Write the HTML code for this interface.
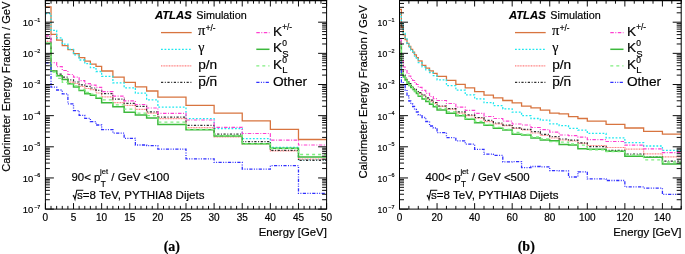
<!DOCTYPE html>
<html><head><meta charset="utf-8"><style>html,body{margin:0;padding:0;background:#fff;}svg{display:block;filter:blur(0.25px);} text{stroke:#000;stroke-width:0.18px;}</style></head>
<body><svg width="685" height="254" viewBox="0 0 685 254">
<rect width="685" height="254" fill="#fff"/>
<svg x="0" y="0" width="685" height="254"><clipPath id="c0"><rect x="45.4" y="0" width="281.20000000000005" height="209.1"/></clipPath><g clip-path="url(#c0)">
<path d="M45.40,6.80 L51.02,6.80 L51.02,34.30 L56.65,34.30 L56.65,40.20 L62.27,40.20 L62.27,45.60 L67.90,45.60 L67.90,49.70 L73.52,49.70 L73.52,53.60 L79.14,53.60 L79.14,57.70 L84.77,57.70 L84.77,61.20 L90.39,61.20 L90.39,64.10 L96.02,64.10 L96.02,66.30 L101.64,66.30 L101.64,71.00 L112.89,71.00 L112.89,77.20 L124.14,77.20 L124.14,82.40 L135.38,82.40 L135.38,86.90 L146.63,86.90 L146.63,91.00 L157.88,91.00 L157.88,97.20 L186.00,97.20 L186.00,105.40 L214.12,105.40 L214.12,113.20 L242.24,113.20 L242.24,120.90 L270.36,120.90 L270.36,129.30 L298.48,129.30 L298.48,139.50 L326.60,139.50" stroke="#d8743f" stroke-width="1.3" fill="none"/>
<path d="M45.40,13.60 L51.02,13.60 L51.02,30.40 L56.65,30.40 L56.65,37.80 L62.27,37.80 L62.27,44.20 L67.90,44.20 L67.90,49.30 L73.52,49.30 L73.52,54.80 L79.14,54.80 L79.14,60.00 L84.77,60.00 L84.77,63.70 L90.39,63.70 L90.39,67.60 L96.02,67.60 L96.02,71.50 L101.64,71.50 L101.64,76.40 L112.89,76.40 L112.89,82.80 L124.14,82.80 L124.14,87.80 L135.38,87.80 L135.38,93.20 L146.63,93.20 L146.63,99.90 L157.88,99.90 L157.88,107.20 L186.00,107.20 L186.00,118.60 L214.12,118.60 L214.12,128.50 L242.24,128.50 L242.24,138.60 L270.36,138.60 L270.36,147.40 L298.48,147.40 L298.48,159.70 L326.60,159.70" stroke="#1ee8f0" stroke-width="1.3" fill="none" stroke-dasharray="1.8 1.7"/>
<path d="M45.40,41.40 L51.02,41.40 L51.02,70.70 L56.65,70.70 L56.65,75.40 L62.27,75.40 L62.27,79.30 L67.90,79.30 L67.90,82.20 L73.52,82.20 L73.52,83.50 L79.14,83.50 L79.14,86.50 L84.77,86.50 L84.77,88.50 L90.39,88.50 L90.39,89.70 L96.02,89.70 L96.02,93.00 L101.64,93.00 L101.64,96.80 L112.89,96.80 L112.89,102.70 L124.14,102.70 L124.14,105.30 L135.38,105.30 L135.38,109.40 L146.63,109.40 L146.63,113.10 L157.88,113.10 L157.88,118.70 L186.00,118.70 L186.00,127.70 L214.12,127.70 L214.12,136.90 L242.24,136.90 L242.24,143.80 L270.36,143.80 L270.36,150.90 L298.48,150.90 L298.48,159.20 L326.60,159.20" stroke="#ff8080" stroke-width="1.2" fill="none" stroke-dasharray="1 0.6"/>
<path d="M45.40,37.00 L51.02,37.00 L51.02,71.10 L56.65,71.10 L56.65,74.10 L62.27,74.10 L62.27,77.20 L67.90,77.20 L67.90,79.90 L73.52,79.90 L73.52,82.00 L79.14,82.00 L79.14,84.80 L84.77,84.80 L84.77,86.40 L90.39,86.40 L90.39,88.00 L96.02,88.00 L96.02,90.30 L101.64,90.30 L101.64,93.60 L112.89,93.60 L112.89,99.20 L124.14,99.20 L124.14,103.30 L135.38,103.30 L135.38,106.40 L146.63,106.40 L146.63,111.80 L157.88,111.80 L157.88,117.10 L186.00,117.10 L186.00,125.30 L214.12,125.30 L214.12,134.10 L242.24,134.10 L242.24,141.70 L270.36,141.70 L270.36,150.30 L298.48,150.30 L298.48,160.40 L326.60,160.40" stroke="#303030" stroke-width="1.2" fill="none" stroke-dasharray="2.2 1.6 1 1.6"/>
<path d="M45.40,35.90 L51.02,35.90 L51.02,62.60 L56.65,62.60 L56.65,66.70 L62.27,66.70 L62.27,70.50 L67.90,70.50 L67.90,74.50 L73.52,74.50 L73.52,77.10 L79.14,77.10 L79.14,80.70 L84.77,80.70 L84.77,83.60 L90.39,83.60 L90.39,85.10 L96.02,85.10 L96.02,87.40 L101.64,87.40 L101.64,91.60 L112.89,91.60 L112.89,96.20 L124.14,96.20 L124.14,100.90 L135.38,100.90 L135.38,104.50 L146.63,104.50 L146.63,108.00 L157.88,108.00 L157.88,113.30 L186.00,113.30 L186.00,120.00 L214.12,120.00 L214.12,127.30 L242.24,127.30 L242.24,133.50 L270.36,133.50 L270.36,140.20 L298.48,140.20 L298.48,145.00 L326.60,145.00" stroke="#ff40d0" stroke-width="1.2" fill="none" stroke-dasharray="3.5 1.5 1 1.5"/>
<path d="M45.40,43.20 L51.02,43.20 L51.02,71.00 L56.65,71.00 L56.65,75.80 L62.27,75.80 L62.27,79.60 L67.90,79.60 L67.90,83.80 L73.52,83.80 L73.52,86.90 L79.14,86.90 L79.14,90.50 L84.77,90.50 L84.77,93.70 L90.39,93.70 L90.39,95.20 L96.02,95.20 L96.02,98.30 L101.64,98.30 L101.64,102.70 L112.89,102.70 L112.89,106.80 L124.14,106.80 L124.14,112.20 L135.38,112.20 L135.38,115.10 L146.63,115.10 L146.63,118.10 L157.88,118.10 L157.88,124.60 L186.00,124.60 L186.00,129.80 L214.12,129.80 L214.12,136.00 L242.24,136.00 L242.24,143.80 L270.36,143.80 L270.36,148.30 L298.48,148.30 L298.48,157.00 L326.60,157.00" stroke="#3cb83c" stroke-width="1.5" fill="none"/>
<path d="M45.40,43.20 L51.02,43.20 L51.02,72.00 L56.65,72.00 L56.65,78.40 L62.27,78.40 L62.27,82.30 L67.90,82.30 L67.90,84.00 L73.52,84.00 L73.52,86.00 L79.14,86.00 L79.14,89.50 L84.77,89.50 L84.77,92.50 L90.39,92.50 L90.39,94.20 L96.02,94.20 L96.02,97.30 L101.64,97.30 L101.64,99.80 L112.89,99.80 L112.89,104.80 L124.14,104.80 L124.14,109.20 L135.38,109.20 L135.38,113.10 L146.63,113.10 L146.63,115.70 L157.88,115.70 L157.88,122.20 L186.00,122.20 L186.00,129.30 L214.12,129.30 L214.12,135.50 L242.24,135.50 L242.24,143.80 L270.36,143.80 L270.36,148.50 L298.48,148.50 L298.48,154.50 L326.60,154.50" stroke="#80ee80" stroke-width="1.3" fill="none" stroke-dasharray="3 3"/>
<path d="M45.40,62.90 L51.02,62.90 L51.02,87.20 L56.65,87.20 L56.65,90.00 L62.27,90.00 L62.27,93.80 L67.90,93.80 L67.90,103.80 L73.52,103.80 L73.52,110.60 L79.14,110.60 L79.14,115.30 L84.77,115.30 L84.77,118.30 L90.39,118.30 L90.39,121.60 L96.02,121.60 L96.02,125.00 L101.64,125.00 L101.64,129.60 L112.89,129.60 L112.89,133.20 L124.14,133.20 L124.14,138.30 L135.38,138.30 L135.38,145.00 L146.63,145.00 L146.63,145.70 L157.88,145.70 L157.88,149.20 L186.00,149.20 L186.00,158.80 L214.12,158.80 L214.12,162.40 L242.24,162.40 L242.24,169.20 L270.36,169.20 L270.36,165.70 L298.48,165.70 L298.48,193.30 L326.60,193.30" stroke="#3030ff" stroke-width="1.3" fill="none" stroke-dasharray="3.2 1.4 1 1.4 1 1.4"/>
</g></svg>
<rect x="45.4" y="0.5" width="281.20000000000005" height="208.6" fill="none" stroke="#000" stroke-width="1"/>
<path d="M44.9,0.7 H327.1" stroke="#000" stroke-width="1.2"/>
<path d="M45.40,209.1 V203.10 M45.40,0.5 V6.50 M51.02,209.1 V205.90 M51.02,0.5 V3.70 M56.65,209.1 V205.90 M56.65,0.5 V3.70 M62.27,209.1 V205.90 M62.27,0.5 V3.70 M67.90,209.1 V205.90 M67.90,0.5 V3.70 M73.52,209.1 V203.10 M73.52,0.5 V6.50 M79.14,209.1 V205.90 M79.14,0.5 V3.70 M84.77,209.1 V205.90 M84.77,0.5 V3.70 M90.39,209.1 V205.90 M90.39,0.5 V3.70 M96.02,209.1 V205.90 M96.02,0.5 V3.70 M101.64,209.1 V203.10 M101.64,0.5 V6.50 M107.26,209.1 V205.90 M107.26,0.5 V3.70 M112.89,209.1 V205.90 M112.89,0.5 V3.70 M118.51,209.1 V205.90 M118.51,0.5 V3.70 M124.14,209.1 V205.90 M124.14,0.5 V3.70 M129.76,209.1 V203.10 M129.76,0.5 V6.50 M135.38,209.1 V205.90 M135.38,0.5 V3.70 M141.01,209.1 V205.90 M141.01,0.5 V3.70 M146.63,209.1 V205.90 M146.63,0.5 V3.70 M152.26,209.1 V205.90 M152.26,0.5 V3.70 M157.88,209.1 V203.10 M157.88,0.5 V6.50 M163.50,209.1 V205.90 M163.50,0.5 V3.70 M169.13,209.1 V205.90 M169.13,0.5 V3.70 M174.75,209.1 V205.90 M174.75,0.5 V3.70 M180.38,209.1 V205.90 M180.38,0.5 V3.70 M186.00,209.1 V203.10 M186.00,0.5 V6.50 M191.62,209.1 V205.90 M191.62,0.5 V3.70 M197.25,209.1 V205.90 M197.25,0.5 V3.70 M202.87,209.1 V205.90 M202.87,0.5 V3.70 M208.50,209.1 V205.90 M208.50,0.5 V3.70 M214.12,209.1 V203.10 M214.12,0.5 V6.50 M219.74,209.1 V205.90 M219.74,0.5 V3.70 M225.37,209.1 V205.90 M225.37,0.5 V3.70 M230.99,209.1 V205.90 M230.99,0.5 V3.70 M236.62,209.1 V205.90 M236.62,0.5 V3.70 M242.24,209.1 V203.10 M242.24,0.5 V6.50 M247.86,209.1 V205.90 M247.86,0.5 V3.70 M253.49,209.1 V205.90 M253.49,0.5 V3.70 M259.11,209.1 V205.90 M259.11,0.5 V3.70 M264.74,209.1 V205.90 M264.74,0.5 V3.70 M270.36,209.1 V203.10 M270.36,0.5 V6.50 M275.98,209.1 V205.90 M275.98,0.5 V3.70 M281.61,209.1 V205.90 M281.61,0.5 V3.70 M287.23,209.1 V205.90 M287.23,0.5 V3.70 M292.86,209.1 V205.90 M292.86,0.5 V3.70 M298.48,209.1 V203.10 M298.48,0.5 V6.50 M304.10,209.1 V205.90 M304.10,0.5 V3.70 M309.73,209.1 V205.90 M309.73,0.5 V3.70 M315.35,209.1 V205.90 M315.35,0.5 V3.70 M320.98,209.1 V205.90 M320.98,0.5 V3.70 M326.60,209.1 V203.10 M326.60,0.5 V6.50 M45.4,209.10 H53.9 M326.6,209.10 H318.1 M45.4,199.72 H49.9 M326.6,199.72 H322.1 M45.4,194.24 H49.9 M326.6,194.24 H322.1 M45.4,190.35 H49.9 M326.6,190.35 H322.1 M45.4,187.33 H49.9 M326.6,187.33 H322.1 M45.4,184.86 H49.9 M326.6,184.86 H322.1 M45.4,182.78 H49.9 M326.6,182.78 H322.1 M45.4,180.97 H49.9 M326.6,180.97 H322.1 M45.4,179.38 H49.9 M326.6,179.38 H322.1 M45.4,177.95 H53.9 M326.6,177.95 H318.1 M45.4,168.57 H49.9 M326.6,168.57 H322.1 M45.4,163.09 H49.9 M326.6,163.09 H322.1 M45.4,159.20 H49.9 M326.6,159.20 H322.1 M45.4,156.18 H49.9 M326.6,156.18 H322.1 M45.4,153.71 H49.9 M326.6,153.71 H322.1 M45.4,151.63 H49.9 M326.6,151.63 H322.1 M45.4,149.82 H49.9 M326.6,149.82 H322.1 M45.4,148.23 H49.9 M326.6,148.23 H322.1 M45.4,146.80 H53.9 M326.6,146.80 H318.1 M45.4,137.42 H49.9 M326.6,137.42 H322.1 M45.4,131.94 H49.9 M326.6,131.94 H322.1 M45.4,128.05 H49.9 M326.6,128.05 H322.1 M45.4,125.03 H49.9 M326.6,125.03 H322.1 M45.4,122.56 H49.9 M326.6,122.56 H322.1 M45.4,120.48 H49.9 M326.6,120.48 H322.1 M45.4,118.67 H49.9 M326.6,118.67 H322.1 M45.4,117.08 H49.9 M326.6,117.08 H322.1 M45.4,115.65 H53.9 M326.6,115.65 H318.1 M45.4,106.27 H49.9 M326.6,106.27 H322.1 M45.4,100.79 H49.9 M326.6,100.79 H322.1 M45.4,96.90 H49.9 M326.6,96.90 H322.1 M45.4,93.88 H49.9 M326.6,93.88 H322.1 M45.4,91.41 H49.9 M326.6,91.41 H322.1 M45.4,89.33 H49.9 M326.6,89.33 H322.1 M45.4,87.52 H49.9 M326.6,87.52 H322.1 M45.4,85.93 H49.9 M326.6,85.93 H322.1 M45.4,84.50 H53.9 M326.6,84.50 H318.1 M45.4,75.12 H49.9 M326.6,75.12 H322.1 M45.4,69.64 H49.9 M326.6,69.64 H322.1 M45.4,65.75 H49.9 M326.6,65.75 H322.1 M45.4,62.73 H49.9 M326.6,62.73 H322.1 M45.4,60.26 H49.9 M326.6,60.26 H322.1 M45.4,58.18 H49.9 M326.6,58.18 H322.1 M45.4,56.37 H49.9 M326.6,56.37 H322.1 M45.4,54.78 H49.9 M326.6,54.78 H322.1 M45.4,53.35 H53.9 M326.6,53.35 H318.1 M45.4,43.97 H49.9 M326.6,43.97 H322.1 M45.4,38.49 H49.9 M326.6,38.49 H322.1 M45.4,34.60 H49.9 M326.6,34.60 H322.1 M45.4,31.58 H49.9 M326.6,31.58 H322.1 M45.4,29.11 H49.9 M326.6,29.11 H322.1 M45.4,27.03 H49.9 M326.6,27.03 H322.1 M45.4,25.22 H49.9 M326.6,25.22 H322.1 M45.4,23.63 H49.9 M326.6,23.63 H322.1 M45.4,22.20 H53.9 M326.6,22.20 H318.1 M45.4,12.82 H49.9 M326.6,12.82 H322.1 M45.4,7.34 H49.9 M326.6,7.34 H322.1 M45.4,3.45 H49.9 M326.6,3.45 H322.1 M45.4,0.43 H49.9 M326.6,0.43 H322.1" stroke="#000" stroke-width="0.95" fill="none"/>
<text x="45.40" y="220.7" font-family="Liberation Sans, sans-serif" font-size="10" text-anchor="middle">0</text>
<text x="73.52" y="220.7" font-family="Liberation Sans, sans-serif" font-size="10" text-anchor="middle">5</text>
<text x="101.64" y="220.7" font-family="Liberation Sans, sans-serif" font-size="10" text-anchor="middle">10</text>
<text x="129.76" y="220.7" font-family="Liberation Sans, sans-serif" font-size="10" text-anchor="middle">15</text>
<text x="157.88" y="220.7" font-family="Liberation Sans, sans-serif" font-size="10" text-anchor="middle">20</text>
<text x="186.00" y="220.7" font-family="Liberation Sans, sans-serif" font-size="10" text-anchor="middle">25</text>
<text x="214.12" y="220.7" font-family="Liberation Sans, sans-serif" font-size="10" text-anchor="middle">30</text>
<text x="242.24" y="220.7" font-family="Liberation Sans, sans-serif" font-size="10" text-anchor="middle">35</text>
<text x="270.36" y="220.7" font-family="Liberation Sans, sans-serif" font-size="10" text-anchor="middle">40</text>
<text x="298.48" y="220.7" font-family="Liberation Sans, sans-serif" font-size="10" text-anchor="middle">45</text>
<text x="326.60" y="220.7" font-family="Liberation Sans, sans-serif" font-size="10" text-anchor="middle">50</text>
<text x="33.30" y="213.00" font-family="Liberation Sans, sans-serif" font-size="9.5" text-anchor="end">10</text>
<text x="34.20" y="208.60" font-family="Liberation Sans, sans-serif" font-size="5.4">−7</text>
<text x="33.30" y="181.85" font-family="Liberation Sans, sans-serif" font-size="9.5" text-anchor="end">10</text>
<text x="34.20" y="177.45" font-family="Liberation Sans, sans-serif" font-size="5.4">−6</text>
<text x="33.30" y="150.70" font-family="Liberation Sans, sans-serif" font-size="9.5" text-anchor="end">10</text>
<text x="34.20" y="146.30" font-family="Liberation Sans, sans-serif" font-size="5.4">−5</text>
<text x="33.30" y="119.55" font-family="Liberation Sans, sans-serif" font-size="9.5" text-anchor="end">10</text>
<text x="34.20" y="115.15" font-family="Liberation Sans, sans-serif" font-size="5.4">−4</text>
<text x="33.30" y="88.40" font-family="Liberation Sans, sans-serif" font-size="9.5" text-anchor="end">10</text>
<text x="34.20" y="84.00" font-family="Liberation Sans, sans-serif" font-size="5.4">−3</text>
<text x="33.30" y="57.25" font-family="Liberation Sans, sans-serif" font-size="9.5" text-anchor="end">10</text>
<text x="34.20" y="52.85" font-family="Liberation Sans, sans-serif" font-size="5.4">−2</text>
<text x="33.30" y="26.10" font-family="Liberation Sans, sans-serif" font-size="9.5" text-anchor="end">10</text>
<text x="34.20" y="21.70" font-family="Liberation Sans, sans-serif" font-size="5.4">−1</text>
<text transform="translate(9.80,1.6) rotate(-90)" font-family="Liberation Sans, sans-serif" font-size="11.1" text-anchor="end">Calorimeter Energy Fraction / GeV</text>
<text x="326.80" y="235.9" font-family="Liberation Sans, sans-serif" font-size="11.35" text-anchor="end">Energy [GeV]</text>
<text x="154.9" y="19.2" font-family="Liberation Sans, sans-serif" font-weight="bold" font-style="italic" font-size="11.3">ATLAS</text>
<text x="196.3" y="19.2" font-family="Liberation Sans, sans-serif" font-size="10.8">Simulation</text>
<path d="M161,32.6 H191.7" stroke="#d8743f" stroke-width="1.3" fill="none"/>
<path d="M161,49.3 H191.7" stroke="#1ee8f0" stroke-width="1.3" fill="none" stroke-dasharray="1.8 1.7"/>
<path d="M161,65.8 H191.7" stroke="#ff8080" stroke-width="1.2" fill="none" stroke-dasharray="1 0.6"/>
<path d="M161,82.3 H191.7" stroke="#303030" stroke-width="1.2" fill="none" stroke-dasharray="2.2 1.6 1 1.6"/>
<path d="M256.3,32.6 H269.5" stroke="#ff40d0" stroke-width="1.2" fill="none" stroke-dasharray="3.5 1.5 1 1.5"/>
<path d="M256.3,49.3 H269.5" stroke="#3cb83c" stroke-width="1.5" fill="none"/>
<path d="M256.3,65.8 H269.5" stroke="#80ee80" stroke-width="1.3" fill="none" stroke-dasharray="3 3"/>
<path d="M256.3,82.3 H269.5" stroke="#3030ff" stroke-width="1.3" fill="none" stroke-dasharray="3.2 1.4 1 1.4 1 1.4"/>
<text x="197.89999999999998" y="35.4" font-family="Liberation Serif, serif" font-size="14.6">π</text>
<text x="205.79999999999998" y="31.0" font-family="Liberation Sans, sans-serif" font-size="8.2">+/-</text>
<text x="198.29999999999998" y="52.199999999999996" font-family="Liberation Serif, serif" font-size="14">γ</text>
<text x="198.2" y="69.39999999999999" font-family="Liberation Sans, sans-serif" font-size="13.7">p/n</text>
<text x="198.2" y="85.89999999999999" font-family="Liberation Sans, sans-serif" font-size="13.7">p/n</text>
<path d="M198.89999999999998,76.39999999999999 H205.39999999999998 M209.7,76.39999999999999 H216.39999999999998" stroke="#000" stroke-width="0.9"/>
<text x="272.9" y="36.0" font-family="Liberation Sans, sans-serif" font-size="13.7">K</text>
<text x="282.29999999999995" y="29.900000000000002" font-family="Liberation Sans, sans-serif" font-size="8.2">+/-</text>
<text x="272.9" y="52.4" font-family="Liberation Sans, sans-serif" font-size="13.7">K</text>
<text x="282.29999999999995" y="46.0" font-family="Liberation Sans, sans-serif" font-size="8.5">0</text>
<text x="282.29999999999995" y="56.599999999999994" font-family="Liberation Sans, sans-serif" font-size="9.5">S</text>
<text x="272.9" y="68.6" font-family="Liberation Sans, sans-serif" font-size="13.7">K</text>
<text x="282.29999999999995" y="62.5" font-family="Liberation Sans, sans-serif" font-size="8.5">0</text>
<text x="282.29999999999995" y="73.1" font-family="Liberation Sans, sans-serif" font-size="9.5">L</text>
<text x="272.9" y="85.6" font-family="Liberation Sans, sans-serif" font-size="13.7">Other</text>
<text x="71.5" y="180.9" font-family="Liberation Sans, sans-serif" font-size="11.4">90&lt; p</text>
<text x="100.10" y="173.7" font-family="Liberation Sans, sans-serif" font-size="7.6">jet</text>
<text x="100.70" y="186.6" font-family="Liberation Sans, sans-serif" font-size="8.2">T</text>
<text x="111.30" y="180.9" font-family="Liberation Sans, sans-serif" font-size="11.4">/ GeV &lt;100</text>
<text x="77.1" y="199.1" font-family="Liberation Sans, sans-serif" font-size="11.55">s=8 TeV, PYTHIA8 Dijets</text>
<path d="M72.8,196.2 L73.7,195.6 L75.0,199.4 L76.8,190.2 H83.3" stroke="#000" stroke-width="1.05" fill="none"/>
<text x="163.7" y="250.8" font-family="Liberation Serif, serif" font-weight="bold" font-size="14">(a)</text>
<svg x="0" y="0" width="685" height="254"><clipPath id="c1"><rect x="399.5" y="0" width="281.70000000000005" height="209.1"/></clipPath><g clip-path="url(#c1)">
<path d="M399.50,9.40 L401.38,9.40 L401.38,27.00 L403.26,27.00 L403.26,34.50 L405.13,34.50 L405.13,39.50 L407.01,39.50 L407.01,43.30 L408.89,43.30 L408.89,46.50 L410.77,46.50 L410.77,49.40 L412.65,49.40 L412.65,52.20 L414.52,52.20 L414.52,54.90 L416.40,54.90 L416.40,57.60 L418.28,57.60 L418.28,60.90 L422.04,60.90 L422.04,65.40 L425.79,65.40 L425.79,68.20 L429.55,68.20 L429.55,70.90 L433.30,70.90 L433.30,73.30 L437.06,73.30 L437.06,76.40 L446.45,76.40 L446.45,80.40 L455.84,80.40 L455.84,84.30 L465.23,84.30 L465.23,87.80 L474.62,87.80 L474.62,91.60 L484.01,91.60 L484.01,95.10 L493.40,95.10 L493.40,97.90 L502.79,97.90 L502.79,100.50 L512.18,100.50 L512.18,102.90 L521.57,102.90 L521.57,106.20 L530.96,106.20 L530.96,107.80 L540.35,107.80 L540.35,110.20 L549.74,110.20 L549.74,113.10 L559.13,113.10 L559.13,113.90 L568.52,113.90 L568.52,116.60 L577.91,116.60 L577.91,118.50 L587.30,118.50 L587.30,121.20 L606.08,121.20 L606.08,124.40 L624.86,124.40 L624.86,128.00 L643.64,128.00 L643.64,131.30 L662.42,131.30 L662.42,134.10 L681.20,134.10" stroke="#d8743f" stroke-width="1.3" fill="none"/>
<path d="M399.50,14.40 L401.38,14.40 L401.38,23.50 L403.26,23.50 L403.26,33.50 L405.13,33.50 L405.13,39.00 L407.01,39.00 L407.01,43.50 L408.89,43.50 L408.89,47.00 L410.77,47.00 L410.77,50.20 L412.65,50.20 L412.65,53.20 L414.52,53.20 L414.52,56.20 L416.40,56.20 L416.40,59.20 L418.28,59.20 L418.28,62.70 L422.04,62.70 L422.04,66.80 L425.79,66.80 L425.79,69.80 L429.55,69.80 L429.55,72.50 L433.30,72.50 L433.30,75.70 L437.06,75.70 L437.06,79.80 L446.45,79.80 L446.45,85.70 L455.84,85.70 L455.84,90.20 L465.23,90.20 L465.23,94.90 L474.62,94.90 L474.62,98.90 L484.01,98.90 L484.01,102.70 L493.40,102.70 L493.40,105.70 L502.79,105.70 L502.79,108.90 L512.18,108.90 L512.18,112.10 L521.57,112.10 L521.57,115.70 L530.96,115.70 L530.96,118.50 L540.35,118.50 L540.35,120.20 L549.74,120.20 L549.74,123.90 L559.13,123.90 L559.13,125.70 L568.52,125.70 L568.52,128.30 L577.91,128.30 L577.91,130.10 L587.30,130.10 L587.30,133.40 L606.08,133.40 L606.08,137.80 L624.86,137.80 L624.86,142.60 L643.64,142.60 L643.64,146.00 L662.42,146.00 L662.42,150.40 L681.20,150.40" stroke="#1ee8f0" stroke-width="1.3" fill="none" stroke-dasharray="1.8 1.7"/>
<path d="M399.50,43.00 L401.38,43.00 L401.38,71.00 L403.26,71.00 L403.26,76.00 L405.13,76.00 L405.13,79.00 L407.01,79.00 L407.01,82.00 L408.89,82.00 L408.89,84.50 L410.77,84.50 L410.77,86.50 L412.65,86.50 L412.65,88.50 L414.52,88.50 L414.52,90.30 L416.40,90.30 L416.40,92.00 L418.28,92.00 L418.28,93.70 L422.04,93.70 L422.04,96.00 L425.79,96.00 L425.79,98.80 L429.55,98.80 L429.55,101.10 L433.30,101.10 L433.30,103.50 L437.06,103.50 L437.06,106.30 L446.45,106.30 L446.45,109.20 L455.84,109.20 L455.84,113.10 L465.23,113.10 L465.23,115.70 L474.62,115.70 L474.62,118.10 L484.01,118.10 L484.01,121.60 L493.40,121.60 L493.40,123.90 L502.79,123.90 L502.79,125.60 L512.18,125.60 L512.18,128.30 L521.57,128.30 L521.57,130.00 L530.96,130.00 L530.96,133.00 L540.35,133.00 L540.35,135.50 L549.74,135.50 L549.74,138.00 L559.13,138.00 L559.13,140.00 L568.52,140.00 L568.52,141.00 L577.91,141.00 L577.91,143.40 L587.30,143.40 L587.30,145.50 L606.08,145.50 L606.08,147.50 L624.86,147.50 L624.86,149.10 L643.64,149.10 L643.64,153.90 L662.42,153.90 L662.42,156.80 L681.20,156.80" stroke="#ff8080" stroke-width="1.2" fill="none" stroke-dasharray="1 0.6"/>
<path d="M399.50,42.00 L401.38,42.00 L401.38,70.00 L403.26,70.00 L403.26,75.00 L405.13,75.00 L405.13,78.00 L407.01,78.00 L407.01,81.00 L408.89,81.00 L408.89,83.50 L410.77,83.50 L410.77,85.50 L412.65,85.50 L412.65,87.50 L414.52,87.50 L414.52,89.30 L416.40,89.30 L416.40,91.00 L418.28,91.00 L418.28,92.70 L422.04,92.70 L422.04,95.00 L425.79,95.00 L425.79,97.80 L429.55,97.80 L429.55,100.10 L433.30,100.10 L433.30,102.50 L437.06,102.50 L437.06,106.00 L446.45,106.00 L446.45,108.60 L455.84,108.60 L455.84,111.80 L465.23,111.80 L465.23,114.80 L474.62,114.80 L474.62,117.50 L484.01,117.50 L484.01,120.40 L493.40,120.40 L493.40,123.00 L502.79,123.00 L502.79,125.10 L512.18,125.10 L512.18,127.90 L521.57,127.90 L521.57,129.30 L530.96,129.30 L530.96,131.60 L540.35,131.60 L540.35,134.30 L549.74,134.30 L549.74,136.70 L559.13,136.70 L559.13,139.00 L568.52,139.00 L568.52,140.10 L577.91,140.10 L577.91,142.80 L587.30,142.80 L587.30,146.70 L606.08,146.70 L606.08,150.30 L624.86,150.30 L624.86,154.20 L643.64,154.20 L643.64,157.10 L662.42,157.10 L662.42,161.20 L681.20,161.20" stroke="#303030" stroke-width="1.2" fill="none" stroke-dasharray="2.2 1.6 1 1.6"/>
<path d="M399.50,40.00 L401.38,40.00 L401.38,61.00 L403.26,61.00 L403.26,67.00 L405.13,67.00 L405.13,70.50 L407.01,70.50 L407.01,73.50 L408.89,73.50 L408.89,76.00 L410.77,76.00 L410.77,78.50 L412.65,78.50 L412.65,80.50 L414.52,80.50 L414.52,82.50 L416.40,82.50 L416.40,84.50 L418.28,84.50 L418.28,87.40 L422.04,87.40 L422.04,90.30 L425.79,90.30 L425.79,93.30 L429.55,93.30 L429.55,96.50 L433.30,96.50 L433.30,98.60 L437.06,98.60 L437.06,100.50 L446.45,100.50 L446.45,103.50 L455.84,103.50 L455.84,107.20 L465.23,107.20 L465.23,110.40 L474.62,110.40 L474.62,113.30 L484.01,113.30 L484.01,116.50 L493.40,116.50 L493.40,118.50 L502.79,118.50 L502.79,121.20 L512.18,121.20 L512.18,124.00 L521.57,124.00 L521.57,125.00 L530.96,125.00 L530.96,127.50 L540.35,127.50 L540.35,129.60 L549.74,129.60 L549.74,132.20 L559.13,132.20 L559.13,135.00 L568.52,135.00 L568.52,135.70 L577.91,135.70 L577.91,137.20 L587.30,137.20 L587.30,139.60 L606.08,139.60 L606.08,141.50 L624.86,141.50 L624.86,145.20 L643.64,145.20 L643.64,148.90 L662.42,148.90 L662.42,152.70 L681.20,152.70" stroke="#ff40d0" stroke-width="1.2" fill="none" stroke-dasharray="3.5 1.5 1 1.5"/>
<path d="M399.50,45.50 L401.38,45.50 L401.38,73.50 L403.26,73.50 L403.26,77.00 L405.13,77.00 L405.13,80.00 L407.01,80.00 L407.01,83.00 L408.89,83.00 L408.89,85.50 L410.77,85.50 L410.77,87.50 L412.65,87.50 L412.65,89.50 L414.52,89.50 L414.52,91.50 L416.40,91.50 L416.40,93.50 L418.28,93.50 L418.28,96.20 L422.04,96.20 L422.04,98.90 L425.79,98.90 L425.79,101.50 L429.55,101.50 L429.55,104.20 L433.30,104.20 L433.30,106.80 L437.06,106.80 L437.06,110.00 L446.45,110.00 L446.45,113.30 L455.84,113.30 L455.84,115.70 L465.23,115.70 L465.23,119.30 L474.62,119.30 L474.62,122.80 L484.01,122.80 L484.01,125.30 L493.40,125.30 L493.40,128.30 L502.79,128.30 L502.79,130.10 L512.18,130.10 L512.18,134.20 L521.57,134.20 L521.57,135.10 L530.96,135.10 L530.96,137.90 L540.35,137.90 L540.35,139.90 L549.74,139.90 L549.74,140.70 L559.13,140.70 L559.13,144.40 L568.52,144.40 L568.52,145.10 L577.91,145.10 L577.91,148.70 L587.30,148.70 L587.30,149.30 L606.08,149.30 L606.08,151.20 L624.86,151.20 L624.86,156.20 L643.64,156.20 L643.64,157.20 L662.42,157.20 L662.42,164.00 L681.20,164.00" stroke="#3cb83c" stroke-width="1.5" fill="none"/>
<path d="M399.50,45.50 L401.38,45.50 L401.38,73.00 L403.26,73.00 L403.26,76.50 L405.13,76.50 L405.13,79.50 L407.01,79.50 L407.01,82.50 L408.89,82.50 L408.89,85.00 L410.77,85.00 L410.77,87.00 L412.65,87.00 L412.65,89.00 L414.52,89.00 L414.52,91.00 L416.40,91.00 L416.40,93.00 L418.28,93.00 L418.28,95.50 L422.04,95.50 L422.04,98.00 L425.79,98.00 L425.79,100.50 L429.55,100.50 L429.55,103.20 L433.30,103.20 L433.30,105.80 L437.06,105.80 L437.06,108.50 L446.45,108.50 L446.45,112.00 L455.84,112.00 L455.84,115.00 L465.23,115.00 L465.23,118.50 L474.62,118.50 L474.62,121.50 L484.01,121.50 L484.01,124.50 L493.40,124.50 L493.40,127.30 L502.79,127.30 L502.79,129.50 L512.18,129.50 L512.18,132.50 L521.57,132.50 L521.57,134.50 L530.96,134.50 L530.96,137.00 L540.35,137.00 L540.35,139.00 L549.74,139.00 L549.74,141.60 L559.13,141.60 L559.13,142.20 L568.52,142.20 L568.52,144.00 L577.91,144.00 L577.91,145.10 L587.30,145.10 L587.30,149.90 L606.08,149.90 L606.08,151.50 L624.86,151.50 L624.86,155.00 L643.64,155.00 L643.64,159.80 L662.42,159.80 L662.42,162.00 L681.20,162.00" stroke="#80ee80" stroke-width="1.3" fill="none" stroke-dasharray="3 3"/>
<path d="M399.50,62.40 L401.38,62.40 L401.38,82.00 L403.26,82.00 L403.26,85.50 L405.13,85.50 L405.13,90.00 L407.01,90.00 L407.01,96.00 L408.89,96.00 L408.89,101.00 L410.77,101.00 L410.77,104.00 L412.65,104.00 L412.65,106.50 L414.52,106.50 L414.52,109.50 L416.40,109.50 L416.40,112.00 L418.28,112.00 L418.28,115.00 L422.04,115.00 L422.04,117.50 L425.79,117.50 L425.79,121.50 L429.55,121.50 L429.55,126.00 L433.30,126.00 L433.30,128.00 L437.06,128.00 L437.06,132.60 L446.45,132.60 L446.45,137.60 L455.84,137.60 L455.84,140.90 L465.23,140.90 L465.23,144.10 L474.62,144.10 L474.62,149.30 L484.01,149.30 L484.01,154.20 L493.40,154.20 L493.40,155.40 L502.79,155.40 L502.79,161.90 L512.18,161.90 L512.18,161.70 L521.57,161.70 L521.57,167.60 L530.96,167.60 L530.96,166.50 L540.35,166.50 L540.35,166.80 L549.74,166.80 L549.74,170.60 L559.13,170.60 L559.13,170.80 L568.52,170.80 L568.52,177.00 L577.91,177.00 L577.91,171.80 L587.30,171.80 L587.30,178.90 L606.08,178.90 L606.08,180.50 L624.86,180.50 L624.86,186.90 L643.64,186.90 L643.64,188.10 L662.42,188.10 L662.42,194.40 L681.20,194.40" stroke="#3030ff" stroke-width="1.3" fill="none" stroke-dasharray="3.2 1.4 1 1.4 1 1.4"/>
</g></svg>
<rect x="399.5" y="0.5" width="281.70000000000005" height="208.6" fill="none" stroke="#000" stroke-width="1"/>
<path d="M399.0,0.7 H681.7" stroke="#000" stroke-width="1.2"/>
<path d="M399.50,209.1 V203.10 M399.50,0.5 V6.50 M408.89,209.1 V205.90 M408.89,0.5 V3.70 M418.28,209.1 V205.90 M418.28,0.5 V3.70 M427.67,209.1 V205.90 M427.67,0.5 V3.70 M437.06,209.1 V203.10 M437.06,0.5 V6.50 M446.45,209.1 V205.90 M446.45,0.5 V3.70 M455.84,209.1 V205.90 M455.84,0.5 V3.70 M465.23,209.1 V205.90 M465.23,0.5 V3.70 M474.62,209.1 V203.10 M474.62,0.5 V6.50 M484.01,209.1 V205.90 M484.01,0.5 V3.70 M493.40,209.1 V205.90 M493.40,0.5 V3.70 M502.79,209.1 V205.90 M502.79,0.5 V3.70 M512.18,209.1 V203.10 M512.18,0.5 V6.50 M521.57,209.1 V205.90 M521.57,0.5 V3.70 M530.96,209.1 V205.90 M530.96,0.5 V3.70 M540.35,209.1 V205.90 M540.35,0.5 V3.70 M549.74,209.1 V203.10 M549.74,0.5 V6.50 M559.13,209.1 V205.90 M559.13,0.5 V3.70 M568.52,209.1 V205.90 M568.52,0.5 V3.70 M577.91,209.1 V205.90 M577.91,0.5 V3.70 M587.30,209.1 V203.10 M587.30,0.5 V6.50 M596.69,209.1 V205.90 M596.69,0.5 V3.70 M606.08,209.1 V205.90 M606.08,0.5 V3.70 M615.47,209.1 V205.90 M615.47,0.5 V3.70 M624.86,209.1 V203.10 M624.86,0.5 V6.50 M634.25,209.1 V205.90 M634.25,0.5 V3.70 M643.64,209.1 V205.90 M643.64,0.5 V3.70 M653.03,209.1 V205.90 M653.03,0.5 V3.70 M662.42,209.1 V203.10 M662.42,0.5 V6.50 M671.81,209.1 V205.90 M671.81,0.5 V3.70 M681.20,209.1 V205.90 M681.20,0.5 V3.70 M399.5,209.10 H408.0 M681.2,209.10 H672.7 M399.5,199.72 H404.0 M681.2,199.72 H676.7 M399.5,194.24 H404.0 M681.2,194.24 H676.7 M399.5,190.35 H404.0 M681.2,190.35 H676.7 M399.5,187.33 H404.0 M681.2,187.33 H676.7 M399.5,184.86 H404.0 M681.2,184.86 H676.7 M399.5,182.78 H404.0 M681.2,182.78 H676.7 M399.5,180.97 H404.0 M681.2,180.97 H676.7 M399.5,179.38 H404.0 M681.2,179.38 H676.7 M399.5,177.95 H408.0 M681.2,177.95 H672.7 M399.5,168.57 H404.0 M681.2,168.57 H676.7 M399.5,163.09 H404.0 M681.2,163.09 H676.7 M399.5,159.20 H404.0 M681.2,159.20 H676.7 M399.5,156.18 H404.0 M681.2,156.18 H676.7 M399.5,153.71 H404.0 M681.2,153.71 H676.7 M399.5,151.63 H404.0 M681.2,151.63 H676.7 M399.5,149.82 H404.0 M681.2,149.82 H676.7 M399.5,148.23 H404.0 M681.2,148.23 H676.7 M399.5,146.80 H408.0 M681.2,146.80 H672.7 M399.5,137.42 H404.0 M681.2,137.42 H676.7 M399.5,131.94 H404.0 M681.2,131.94 H676.7 M399.5,128.05 H404.0 M681.2,128.05 H676.7 M399.5,125.03 H404.0 M681.2,125.03 H676.7 M399.5,122.56 H404.0 M681.2,122.56 H676.7 M399.5,120.48 H404.0 M681.2,120.48 H676.7 M399.5,118.67 H404.0 M681.2,118.67 H676.7 M399.5,117.08 H404.0 M681.2,117.08 H676.7 M399.5,115.65 H408.0 M681.2,115.65 H672.7 M399.5,106.27 H404.0 M681.2,106.27 H676.7 M399.5,100.79 H404.0 M681.2,100.79 H676.7 M399.5,96.90 H404.0 M681.2,96.90 H676.7 M399.5,93.88 H404.0 M681.2,93.88 H676.7 M399.5,91.41 H404.0 M681.2,91.41 H676.7 M399.5,89.33 H404.0 M681.2,89.33 H676.7 M399.5,87.52 H404.0 M681.2,87.52 H676.7 M399.5,85.93 H404.0 M681.2,85.93 H676.7 M399.5,84.50 H408.0 M681.2,84.50 H672.7 M399.5,75.12 H404.0 M681.2,75.12 H676.7 M399.5,69.64 H404.0 M681.2,69.64 H676.7 M399.5,65.75 H404.0 M681.2,65.75 H676.7 M399.5,62.73 H404.0 M681.2,62.73 H676.7 M399.5,60.26 H404.0 M681.2,60.26 H676.7 M399.5,58.18 H404.0 M681.2,58.18 H676.7 M399.5,56.37 H404.0 M681.2,56.37 H676.7 M399.5,54.78 H404.0 M681.2,54.78 H676.7 M399.5,53.35 H408.0 M681.2,53.35 H672.7 M399.5,43.97 H404.0 M681.2,43.97 H676.7 M399.5,38.49 H404.0 M681.2,38.49 H676.7 M399.5,34.60 H404.0 M681.2,34.60 H676.7 M399.5,31.58 H404.0 M681.2,31.58 H676.7 M399.5,29.11 H404.0 M681.2,29.11 H676.7 M399.5,27.03 H404.0 M681.2,27.03 H676.7 M399.5,25.22 H404.0 M681.2,25.22 H676.7 M399.5,23.63 H404.0 M681.2,23.63 H676.7 M399.5,22.20 H408.0 M681.2,22.20 H672.7 M399.5,12.82 H404.0 M681.2,12.82 H676.7 M399.5,7.34 H404.0 M681.2,7.34 H676.7 M399.5,3.45 H404.0 M681.2,3.45 H676.7 M399.5,0.43 H404.0 M681.2,0.43 H676.7" stroke="#000" stroke-width="0.95" fill="none"/>
<text x="399.50" y="220.7" font-family="Liberation Sans, sans-serif" font-size="10" text-anchor="middle">0</text>
<text x="437.06" y="220.7" font-family="Liberation Sans, sans-serif" font-size="10" text-anchor="middle">20</text>
<text x="474.62" y="220.7" font-family="Liberation Sans, sans-serif" font-size="10" text-anchor="middle">40</text>
<text x="512.18" y="220.7" font-family="Liberation Sans, sans-serif" font-size="10" text-anchor="middle">60</text>
<text x="549.74" y="220.7" font-family="Liberation Sans, sans-serif" font-size="10" text-anchor="middle">80</text>
<text x="587.30" y="220.7" font-family="Liberation Sans, sans-serif" font-size="10" text-anchor="middle">100</text>
<text x="624.86" y="220.7" font-family="Liberation Sans, sans-serif" font-size="10" text-anchor="middle">120</text>
<text x="662.42" y="220.7" font-family="Liberation Sans, sans-serif" font-size="10" text-anchor="middle">140</text>
<text transform="translate(387.20,213.10) scale(0.9,1.02)" font-family="Liberation Sans, sans-serif" font-size="9.6" text-anchor="end">10</text>
<text x="388.30" y="208.60" font-family="Liberation Sans, sans-serif" font-size="5.4">−7</text>
<text transform="translate(387.20,181.95) scale(0.9,1.02)" font-family="Liberation Sans, sans-serif" font-size="9.6" text-anchor="end">10</text>
<text x="388.30" y="177.45" font-family="Liberation Sans, sans-serif" font-size="5.4">−6</text>
<text transform="translate(387.20,150.80) scale(0.9,1.02)" font-family="Liberation Sans, sans-serif" font-size="9.6" text-anchor="end">10</text>
<text x="388.30" y="146.30" font-family="Liberation Sans, sans-serif" font-size="5.4">−5</text>
<text transform="translate(387.20,119.65) scale(0.9,1.02)" font-family="Liberation Sans, sans-serif" font-size="9.6" text-anchor="end">10</text>
<text x="388.30" y="115.15" font-family="Liberation Sans, sans-serif" font-size="5.4">−4</text>
<text transform="translate(387.20,88.50) scale(0.9,1.02)" font-family="Liberation Sans, sans-serif" font-size="9.6" text-anchor="end">10</text>
<text x="388.30" y="84.00" font-family="Liberation Sans, sans-serif" font-size="5.4">−3</text>
<text transform="translate(387.20,57.35) scale(0.9,1.02)" font-family="Liberation Sans, sans-serif" font-size="9.6" text-anchor="end">10</text>
<text x="388.30" y="52.85" font-family="Liberation Sans, sans-serif" font-size="5.4">−2</text>
<text transform="translate(387.20,26.20) scale(0.9,1.02)" font-family="Liberation Sans, sans-serif" font-size="9.6" text-anchor="end">10</text>
<text x="388.30" y="21.70" font-family="Liberation Sans, sans-serif" font-size="5.4">−1</text>
<text transform="translate(367.00,5.3) rotate(-90)" font-family="Liberation Sans, sans-serif" font-size="11.3" text-anchor="end">Calorimeter Energy Fraction / GeV</text>
<text x="681.40" y="235.9" font-family="Liberation Sans, sans-serif" font-size="11.35" text-anchor="end">Energy [GeV]</text>
<text x="508.9" y="19.2" font-family="Liberation Sans, sans-serif" font-weight="bold" font-style="italic" font-size="11.3">ATLAS</text>
<text x="550.3" y="19.2" font-family="Liberation Sans, sans-serif" font-size="10.8">Simulation</text>
<path d="M515,32.6 H545.7" stroke="#d8743f" stroke-width="1.3" fill="none"/>
<path d="M515,49.3 H545.7" stroke="#1ee8f0" stroke-width="1.3" fill="none" stroke-dasharray="1.8 1.7"/>
<path d="M515,65.8 H545.7" stroke="#ff8080" stroke-width="1.2" fill="none" stroke-dasharray="1 0.6"/>
<path d="M515,82.3 H545.7" stroke="#303030" stroke-width="1.2" fill="none" stroke-dasharray="2.2 1.6 1 1.6"/>
<path d="M610.3,32.6 H623.5" stroke="#ff40d0" stroke-width="1.2" fill="none" stroke-dasharray="3.5 1.5 1 1.5"/>
<path d="M610.3,49.3 H623.5" stroke="#3cb83c" stroke-width="1.5" fill="none"/>
<path d="M610.3,65.8 H623.5" stroke="#80ee80" stroke-width="1.3" fill="none" stroke-dasharray="3 3"/>
<path d="M610.3,82.3 H623.5" stroke="#3030ff" stroke-width="1.3" fill="none" stroke-dasharray="3.2 1.4 1 1.4 1 1.4"/>
<text x="551.9000000000001" y="35.4" font-family="Liberation Serif, serif" font-size="14.6">π</text>
<text x="559.8000000000001" y="31.0" font-family="Liberation Sans, sans-serif" font-size="8.2">+/-</text>
<text x="552.3000000000001" y="52.199999999999996" font-family="Liberation Serif, serif" font-size="14">γ</text>
<text x="552.2" y="69.39999999999999" font-family="Liberation Sans, sans-serif" font-size="13.7">p/n</text>
<text x="552.2" y="85.89999999999999" font-family="Liberation Sans, sans-serif" font-size="13.7">p/n</text>
<path d="M552.9000000000001,76.39999999999999 H559.4000000000001 M563.7,76.39999999999999 H570.4000000000001" stroke="#000" stroke-width="0.9"/>
<text x="626.9" y="36.0" font-family="Liberation Sans, sans-serif" font-size="13.7">K</text>
<text x="636.3" y="29.900000000000002" font-family="Liberation Sans, sans-serif" font-size="8.2">+/-</text>
<text x="626.9" y="52.4" font-family="Liberation Sans, sans-serif" font-size="13.7">K</text>
<text x="636.3" y="46.0" font-family="Liberation Sans, sans-serif" font-size="8.5">0</text>
<text x="636.3" y="56.599999999999994" font-family="Liberation Sans, sans-serif" font-size="9.5">S</text>
<text x="626.9" y="68.6" font-family="Liberation Sans, sans-serif" font-size="13.7">K</text>
<text x="636.3" y="62.5" font-family="Liberation Sans, sans-serif" font-size="8.5">0</text>
<text x="636.3" y="73.1" font-family="Liberation Sans, sans-serif" font-size="9.5">L</text>
<text x="626.9" y="85.6" font-family="Liberation Sans, sans-serif" font-size="13.7">Other</text>
<text x="425.5" y="180.9" font-family="Liberation Sans, sans-serif" font-size="11.4">400&lt; p</text>
<text x="460.44" y="173.7" font-family="Liberation Sans, sans-serif" font-size="7.6">jet</text>
<text x="461.04" y="186.6" font-family="Liberation Sans, sans-serif" font-size="8.2">T</text>
<text x="471.64" y="180.9" font-family="Liberation Sans, sans-serif" font-size="11.4">/ GeV &lt;500</text>
<text x="431.1" y="199.1" font-family="Liberation Sans, sans-serif" font-size="11.55">s=8 TeV, PYTHIA8 Dijets</text>
<path d="M426.8,196.2 L427.7,195.6 L429.0,199.4 L430.8,190.2 H437.3" stroke="#000" stroke-width="1.05" fill="none"/>
<text x="517.7" y="250.8" font-family="Liberation Serif, serif" font-weight="bold" font-size="14">(b)</text>
</svg></body></html>
